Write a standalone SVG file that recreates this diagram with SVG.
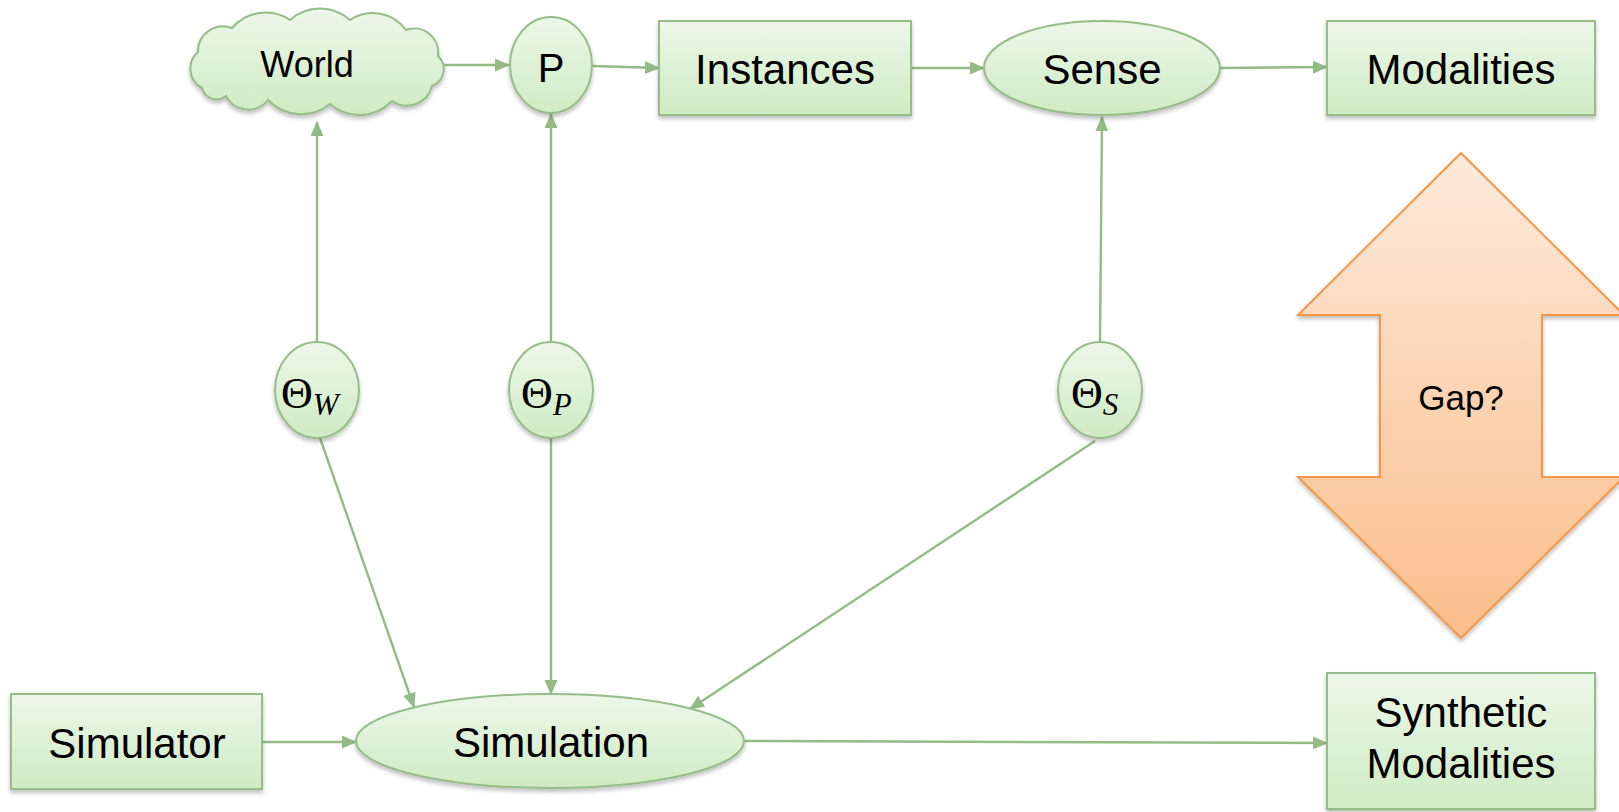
<svg xmlns="http://www.w3.org/2000/svg" width="1619" height="812" viewBox="0 0 1619 812">
  <style>
    .shape { fill: url(#greenFill); stroke: #95bd87; stroke-width: 2; filter: url(#shadow); }
    .label { font-family: "Liberation Sans", Arial, sans-serif; fill: #000; text-anchor: middle; }
    .big { font-size: 42px; }
    .math { font-family: "Liberation Serif", "DejaVu Serif", serif; fill: #000; font-size: 44px; }
    .sub { font-size: 31px; font-style: italic; }
    .edge { fill: none; stroke: #93bb85; stroke-width: 2.4; marker-end: url(#arrow); }
  </style>
  <defs>
    <linearGradient id="greenFill" x1="0" y1="0" x2="0" y2="1">
      <stop offset="0" stop-color="#edf7e9"/>
      <stop offset="1" stop-color="#cfebc4"/>
    </linearGradient>
    <linearGradient id="orangeFill" x1="0" y1="0" x2="0" y2="1">
      <stop offset="0" stop-color="#fdeadb"/>
      <stop offset="1" stop-color="#fbbd8a"/>
    </linearGradient>
    <filter id="shadow" x="-10%" y="-10%" width="120%" height="130%">
      <feDropShadow dx="0" dy="3" stdDeviation="2" flood-color="#000" flood-opacity="0.25"/>
    </filter>
    <marker id="arrow" markerUnits="userSpaceOnUse" markerWidth="15" markerHeight="13" refX="14" refY="6.5" orient="auto">
      <path d="M0,0 L15,6.5 L0,13 z" fill="#93bb85"/>
    </marker>
  </defs>

  <!-- connectors -->
  <g id="connectors">
    <line class="edge" x1="443" y1="65" x2="509" y2="65"/>
    <line class="edge" x1="593" y1="66" x2="659" y2="68"/>
    <line class="edge" x1="912" y1="68" x2="984" y2="68"/>
    <line class="edge" x1="1220" y1="68" x2="1327" y2="67"/>
    <line class="edge" x1="317" y1="342" x2="317" y2="122"/>
    <line class="edge" x1="551" y1="342" x2="551" y2="114"/>
    <line class="edge" x1="1100" y1="342" x2="1102" y2="117"/>
    <line class="edge" x1="320" y1="438" x2="414" y2="707"/>
    <line class="edge" x1="551" y1="438" x2="551" y2="694"/>
    <line class="edge" x1="1095" y1="441" x2="690" y2="709"/>
    <line class="edge" x1="262" y1="742" x2="356" y2="742"/>
    <line class="edge" x1="745" y1="741" x2="1327" y2="743"/>
  </g>

  <!-- top row -->
  <g id="world">
    <path class="shape" d="M202,88 A22,22 0 0 1 198,52 A25,25 0 0 1 232,28 A44,44 0 0 1 290,20 A45,45 0 0 1 350,20 A41,41 0 0 1 406,30 A24,24 0 0 1 438,56 A18,18 0 0 1 432,86 A26,26 0 0 1 392,101 A45,45 0 0 1 330,104 A46,46 0 0 1 268,100 A25,25 0 0 1 226,96 A15,15 0 0 1 202,88 Z"/>
    <text class="label" x="307" y="77" font-size="36">World</text>
  </g>
  <g id="p">
    <ellipse class="shape" cx="551" cy="65" rx="41" ry="48"/>
    <text class="label" x="551" y="82" font-size="40">P</text>
  </g>
  <g id="instances">
    <rect class="shape" x="659" y="21" width="252" height="94"/>
    <text class="label big" x="785" y="84">Instances</text>
  </g>
  <g id="sense">
    <ellipse class="shape" cx="1102" cy="68" rx="118" ry="47"/>
    <text class="label big" x="1102" y="84">Sense</text>
  </g>
  <g id="modalities">
    <rect class="shape" x="1327" y="21" width="268" height="94"/>
    <text class="label big" x="1461" y="84">Modalities</text>
  </g>

  <!-- parameter nodes -->
  <g id="theta-w">
    <ellipse class="shape" cx="317" cy="390" rx="42" ry="48"/>
    <text class="math" x="281" y="408">Θ<tspan class="sub" dy="7">W</tspan></text>
  </g>
  <g id="theta-p">
    <ellipse class="shape" cx="551" cy="390" rx="42" ry="48"/>
    <text class="math" x="521" y="408">Θ<tspan class="sub" dy="7">P</tspan></text>
  </g>
  <g id="theta-s">
    <ellipse class="shape" cx="1100" cy="390" rx="42" ry="48"/>
    <text class="math" x="1071" y="408">Θ<tspan class="sub" dy="7">S</tspan></text>
  </g>

  <!-- gap arrow -->
  <g id="gap">
    <path d="M1461,153 L1624,315 L1542,315 L1542,477 L1624,477 L1461,638 L1298,477 L1380,477 L1380,315 L1298,315 Z" fill="url(#orangeFill)" stroke="#f79646" stroke-width="2" filter="url(#shadow)"/>
    <text class="label" x="1461" y="410" font-size="35">Gap?</text>
  </g>

  <!-- bottom row -->
  <g id="simulator">
    <rect class="shape" x="11" y="694" width="251" height="95"/>
    <text class="label big" x="137" y="758">Simulator</text>
  </g>
  <g id="simulation">
    <ellipse class="shape" cx="550" cy="741" rx="194" ry="47"/>
    <text class="label big" x="551" y="757">Simulation</text>
  </g>
  <g id="synthetic-modalities">
    <rect class="shape" x="1327" y="673" width="268" height="136"/>
    <text class="label big" x="1461" y="727">Synthetic</text>
    <text class="label big" x="1461" y="778">Modalities</text>
  </g>
</svg>
